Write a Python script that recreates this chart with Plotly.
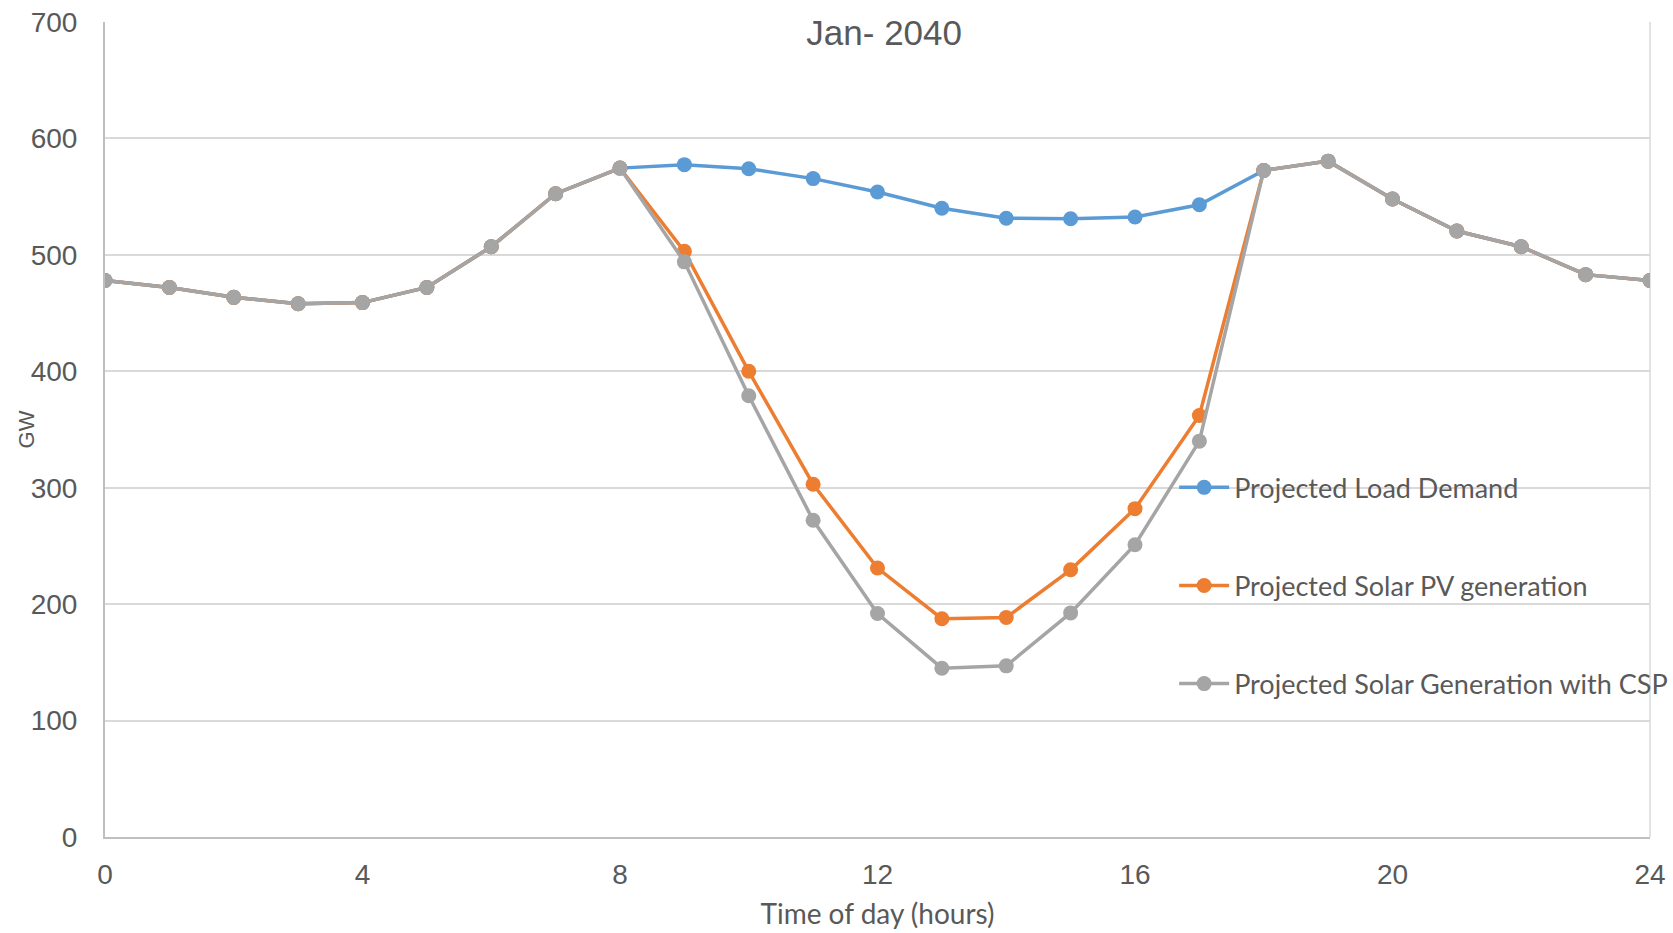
import plotly.graph_objects as go

# Hour of day, 0..24
hours = list(range(25))

# Projected load demand (GW)
load_demand = [478, 472, 463.5, 458, 459, 472, 507, 552.5, 574.5, 577.5, 574, 565.5, 554,
               540, 531.5, 531, 532.5, 543, 572.5, 580.5, 548, 520.5, 507, 483, 478]

# Net load with solar PV generation (GW)
solar_pv = [478, 472, 463.5, 458, 459, 472, 507, 552.5, 574.5, 503, 400, 303, 231,
            187.5, 188.5, 229.5, 282, 362, 572.5, 580.5, 548, 520.5, 507, 483, 478]

# Net load with solar PV plus CSP (GW)
solar_csp = [478, 472, 463.5, 458, 459, 472, 507, 552.5, 574.5, 494, 379, 272, 192,
             145, 147, 192.5, 251, 340, 572.5, 580.5, 548, 520.5, 507, 483, 478]

series_names = ["Projected Load Demand", "Projected Solar PV generation",
                "Projected Solar Generation with CSP"]
series_colors = ["#5B9BD5", "#ED7D31", "#A5A5A5"]
x_ticks = [0, 4, 8, 12, 16, 20, 24]
y_ticks = [0, 100, 200, 300, 400, 500, 600, 700]

TEXT = "#595959"
fig = go.Figure()
for name, vals, col in zip(series_names, [load_demand, solar_pv, solar_csp], series_colors):
    fig.add_trace(go.Scatter(
        x=hours, y=vals, name=name, mode="lines+markers",
        line=dict(color=col, width=3.5),
        marker=dict(color=col, size=15),
        legendgroup=name,
    ))

fig.update_layout(
    width=1673, height=933,
    margin=dict(l=105, r=23, t=22, b=96, autoexpand=False),
    paper_bgcolor="white", plot_bgcolor="white",
    font=dict(family="Liberation Sans, Arial, sans-serif", color=TEXT),
    title=dict(text="Jan- 2040", font=dict(size=35, color=TEXT, family="Liberation Sans"),
               xref="container", x=0.5285, xanchor="center",
               yref="container", y=1 - 33 / 933, yanchor="middle"),
    showlegend=True,
    legend=dict(
        x=0.692, xanchor="left", y=0.4585, yanchor="top", xref="paper", yref="paper",
        bgcolor="rgba(0,0,0,0)", traceorder="grouped", tracegroupgap=60,
        font=dict(family="Lato, sans-serif", size=27, color=TEXT),
        itemwidth=50,
    ),
    xaxis=dict(
        range=[0, 24], tickvals=x_ticks, ticktext=[str(v) for v in x_ticks],
        showgrid=False, zeroline=False, automargin=False,
        showline=True, linecolor="#BFBFBF", linewidth=2, mirror=False,
        ticks="", ticklabelstandoff=11,
        tickfont=dict(size=28, color=TEXT, family="Liberation Sans"),
        title=dict(text="Time of day (hours)", standoff=16,
                   font=dict(family="Lato, sans-serif", size=28, color=TEXT)),
    ),
    yaxis=dict(
        range=[0, 700], tickvals=y_ticks, ticktext=[str(v) for v in y_ticks],
        showgrid=True, gridcolor="#D9D9D9", gridwidth=1.5, zeroline=False,
        automargin=False,
        showline=True, linecolor="#BFBFBF", linewidth=2,
        ticks="", ticklabelstandoff=20,
        tickfont=dict(size=28, color=TEXT, family="Liberation Sans"),
    ),
)

# vertical axis title, set close to the axis between two tick labels
fig.add_annotation(text="GW", textangle=-90, xref="paper", yref="paper",
                   x=-0.0505, y=0.5, xanchor="center", yanchor="middle", showarrow=False,
                   font=dict(size=22, color=TEXT, family="Liberation Sans"))

# right-hand border of the plot area
fig.add_shape(type="line", xref="paper", yref="paper", x0=1, x1=1, y0=0, y1=1,
              line=dict(color="#D9D9D9", width=1.5), layer="below")

fig.write_html("out.html")
